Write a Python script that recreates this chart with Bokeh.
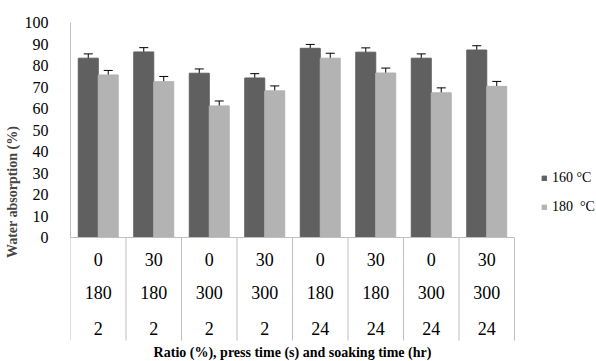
from bokeh.plotting import figure
from bokeh.models import (ColumnDataSource, LinearAxis, FixedTicker, Range1d,
                          Whisker, TeeHead, Legend, LegendItem)
from bokeh.core.properties import value
from bokeh.embed import file_html
from bokeh.resources import INLINE

# ---- data ----
ratio = ["0", "30", "0", "30", "0", "30", "0", "30"]
press_time = ["180", "180", "300", "300", "180", "180", "300", "300"]
soak_time = ["2", "2", "2", "2", "24", "24", "24", "24"]
wa_160 = [83.4, 86.3, 76.4, 74.2, 88.0, 86.2, 83.4, 87.2]
wa_180 = [75.6, 72.5, 61.2, 68.2, 83.4, 76.5, 67.3, 70.3]
err_160 = [2.0, 2.0, 2.0, 2.0, 1.8, 2.0, 2.0, 2.0]
err_180 = [2.1, 2.4, 2.3, 2.3, 2.3, 2.3, 2.3, 2.3]
series_labels = ["160 °C", "180  °C"]
y_ticks = list(range(0, 101, 10))
y_title = "Water absorption (%)"
x_title = "Ratio (%), press time (s) and soaking time (hr)"

FONT = "Liberation Serif"
DARK = "#606060"
LIGHT = "#b3b3b3"
GRID = "#bfbfbf"

n = len(ratio)
centers = [i + 0.5 for i in range(n)]
off = 0.18
bw = 0.36

PX_PER_UNIT = 2.15
CAT_PX = 55.5
W, H = 596, 361
BL, BT = 70, 22
frame_w = W - BL
frame_h = H - BT
y_top = 100
y_bot = y_top - frame_h / PX_PER_UNIT
x_end = frame_w / CAT_PX

p = figure(width=W, height=H, output_backend="svg", toolbar_location=None,
           x_range=Range1d(0, x_end), y_range=Range1d(y_bot, y_top),
           min_border_left=BL, min_border_top=BT, min_border_right=0,
           min_border_bottom=0, x_axis_location=None, y_axis_location=None)
p.outline_line_color = None
p.xgrid.visible = False
p.ygrid.visible = False
p.background_fill_color = "white"

# y axis
yax = LinearAxis(ticker=FixedTicker(ticks=y_ticks), bounds=(0, 100))
yax.axis_line_color = GRID
yax.major_tick_line_color = None
yax.minor_tick_line_color = None
yax.major_label_standoff = 16
yax.major_label_text_font = FONT
yax.major_label_text_font_size = "16px"
yax.major_label_text_color = "#000000"
yax.axis_label = y_title
yax.axis_label_text_font = FONT
yax.axis_label_text_font_style = "bold"
yax.axis_label_text_font_size = "14px"
yax.axis_label_standoff = 2
p.add_layout(yax, "left")

# bars
src = ColumnDataSource(dict(
    x160=[c - off for c in centers], x180=[c + off for c in centers],
    v160=wa_160, v180=wa_180,
    lo160=[v - e for v, e in zip(wa_160, err_160)],
    hi160=[v + e for v, e in zip(wa_160, err_160)],
    lo180=[v - e for v, e in zip(wa_180, err_180)],
    hi180=[v + e for v, e in zip(wa_180, err_180)],
))
r1 = p.vbar(x="x160", top="v160", bottom=0, width=bw, source=src,
            fill_color=DARK, line_color=DARK)
r2 = p.vbar(x="x180", top="v180", bottom=0, width=bw, source=src,
            fill_color=LIGHT, line_color=LIGHT)

for b, lo, hi in (("x160", "lo160", "hi160"), ("x180", "lo180", "hi180")):
    w = Whisker(base=b, lower=lo, upper=hi, source=src, dimension="height",
                line_color="black", line_width=1,
                upper_head=TeeHead(size=9, line_color="black", line_width=1),
                lower_head=TeeHead(size=9, line_color="black", line_width=1))
    p.add_layout(w)

# category axis (multi-level table below)
sep_bottom = -103 / PX_PER_UNIT
p.segment(x0=[0], y0=[0], x1=[n], y1=[0], line_color=GRID, line_width=1)
p.segment(x0=list(range(n + 1)), y0=[0] * (n + 1), x1=list(range(n + 1)),
          y1=[sep_bottom] * (n + 1), line_color=GRID, line_width=1)

row_y = [-22 / PX_PER_UNIT, -55 / PX_PER_UNIT, -91 / PX_PER_UNIT]
for vals, yv in zip((ratio, press_time, soak_time), row_y):
    p.text(x=centers, y=[yv] * n, text=vals, text_font=value(FONT),
           text_font_size="18px", text_align="center", text_baseline="middle",
           text_color="#000000")

p.text(x=[n / 2], y=[-115 / PX_PER_UNIT], text=[x_title],
       text_font=value(FONT), text_font_size="14px",
       text_font_style="bold", text_align="center", text_baseline="middle",
       text_color="#000000")

legend = Legend(items=[LegendItem(label=series_labels[0], renderers=[r1]),
                       LegendItem(label=series_labels[1], renderers=[r2])],
                location=(471, 144))
legend.border_line_color = None
legend.background_fill_alpha = 0
legend.padding = 0
legend.margin = 0
legend.spacing = 9
legend.glyph_width = 6
legend.glyph_height = 6
legend.label_height = 20
legend.label_standoff = 5
legend.label_text_font = FONT
legend.label_text_font_size = "14px"
legend.label_text_color = "#000000"
p.add_layout(legend)

open("out.html", "w").write(file_html(p, INLINE))
